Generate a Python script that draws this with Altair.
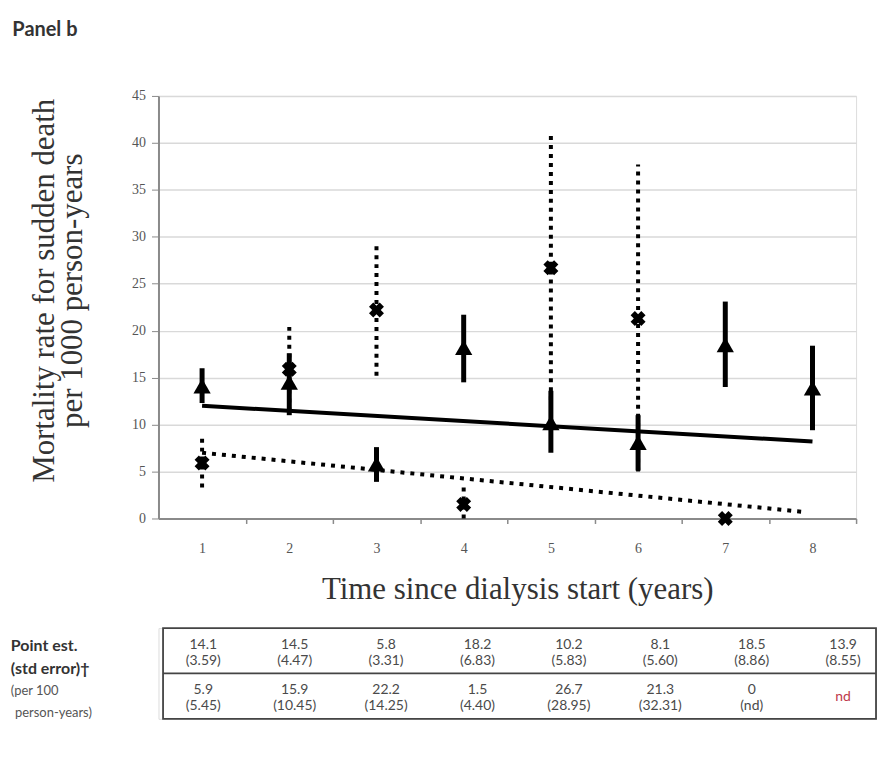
import altair as alt
import pandas as pd

# ---------------- data ----------------
years = [1, 2, 3, 4, 5, 6, 7, 8]

# series 1 (filled triangles, solid error bars)
tri_est = [14.1, 14.5, 5.8, 18.2, 10.2, 8.1, 18.5, 13.9]
tri_lo = [12.3, 11.0, 3.9, 14.5, 7.0, 5.1, 14.0, 9.4]
tri_hi = [16.0, 17.6, 7.6, 21.7, 13.6, 11.0, 23.1, 18.4]

# series 2 (x marks, dotted error bars) - year 8 not determined
x_years = [1, 2, 3, 4, 5, 6, 7]
x_est = [5.9, 15.9, 22.2, 1.5, 26.7, 21.3, 0.0]
x_err_years = [1, 2, 3, 4, 5, 6]
x_lo = [3.3, 11.4, 15.2, 0.0, 12.6, 5.0]
x_hi = [8.6, 20.4, 29.1, 3.6, 40.8, 37.7]

# linear trend lines (end points)
trend1_x = [1, 8]
trend1_y = [12.0, 8.2]
trend2_x = [1, 7.9]
trend2_y = [7.0, 0.7]

# table below the chart
row1_val = ["14.1", "14.5", "5.8", "18.2", "10.2", "8.1", "18.5", "13.9"]
row1_se = ["(3.59)", "(4.47)", "(3.31)", "(6.83)", "(5.83)", "(5.60)", "(8.86)", "(8.55)"]
row2_val = ["5.9", "15.9", "22.2", "1.5", "26.7", "21.3", "0", "nd"]
row2_se = ["(5.45)", "(10.45)", "(14.25)", "(4.40)", "(28.95)", "(32.31)", "(nd)", ""]

bold_labels = ["Point est.", "(std error)\u2020"]
bold_label_rows = [0.40, 0.90]
small_labels = ["(per 100", "person-years)"]
small_label_rows = [1.38, 1.87]
small_label_cols = [-1.105, -1.06]
label_col = -1.105
border_l, border_r = 0.56, 8.36

SERIF = "Liberation Serif"
SANS = "Lato"

# ---------------- main chart ----------------
tri_df = pd.DataFrame({"year": years, "est": tri_est, "lo": tri_lo, "hi": tri_hi})
x_df = pd.DataFrame({"year": x_years, "est": x_est})
xerr_df = pd.DataFrame({"year": x_err_years, "lo": x_lo, "hi": x_hi})
t1_df = pd.DataFrame({"year": trend1_x, "y": trend1_y})
t2_df = pd.DataFrame({"year": trend2_x, "y": trend2_y})

W, H = 700, 424
HALF = W / 16
xscale = alt.Scale(domain=[0.5, 8.5], nice=False, zero=False)
yscale = alt.Scale(domain=[0, 45], nice=False)

x_axis = alt.Axis(
    values=years, format="d", grid=False,
    ticks=True, tickSize=5, tickColor="#8a8a8a", tickWidth=1.5,
    tickOffset=HALF, labelOffset=-HALF,
    labelFont=SERIF, labelFontSize=14, labelColor="#555", labelPadding=18,
    domainColor="#8a8a8a", domainWidth=2,
    title="Time since dialysis start (years)", titleFont=SERIF, titleFontSize=31,
    titleFontWeight="normal", titleColor="#333", titlePadding=19, titleX=360,
)
y_axis = alt.Axis(
    values=list(range(0, 50, 5)), grid=True, gridColor="#d9d9d9", gridWidth=1.5,
    domainColor="#8a8a8a", domainWidth=2, tickColor="#8a8a8a", tickSize=7,
    labelFont=SERIF, labelFontSize=14, labelColor="#555", labelPadding=6,
    title=["Mortality rate for sudden death", "per 1000 person-years"],
    titleFont=SERIF, titleFontSize=31, titleFontWeight="normal", titleColor="#333",
    titleLineHeight=28, titlePadding=43, titleY=195,
)

bars1 = alt.Chart(tri_df).mark_rule(color="black", strokeWidth=5).encode(
    x=alt.X("year:Q", scale=xscale, axis=x_axis),
    y=alt.Y("lo:Q", scale=yscale, axis=y_axis),
    y2="hi:Q",
)
bars2 = alt.Chart(xerr_df).mark_rule(color="black", strokeWidth=4, strokeDash=[4, 5]).encode(
    x=alt.X("year:Q", scale=xscale),
    y=alt.Y("lo:Q", scale=yscale),
    y2="hi:Q",
)
line1 = alt.Chart(t1_df).mark_line(color="black", strokeWidth=4).encode(
    x=alt.X("year:Q", scale=xscale), y=alt.Y("y:Q", scale=yscale)
)
line2 = alt.Chart(t2_df).mark_line(color="black", strokeWidth=4, strokeDash=[4, 6]).encode(
    x=alt.X("year:Q", scale=xscale), y=alt.Y("y:Q", scale=yscale)
)
tri = alt.Chart(tri_df).mark_point(
    shape="triangle-up", filled=True, size=300, color="black", opacity=1
).encode(x=alt.X("year:Q", scale=xscale), y=alt.Y("est:Q", scale=yscale))
xm = alt.Chart(x_df).mark_point(
    shape="cross", angle=45, filled=True, size=230, color="black", opacity=1
).encode(x=alt.X("year:Q", scale=xscale), y=alt.Y("est:Q", scale=yscale))

main = alt.layer(bars1, bars2, line1, line2, tri, xm).properties(width=W, height=H)

# ---------------- table ----------------
cells, nd_cells = [], []
for i, c in enumerate(years):
    cells.append({"col": c, "row": 0.5, "txt": row1_val[i] + "\n" + row1_se[i]})
    if row2_se[i]:
        cells.append({"col": c, "row": 1.5, "txt": row2_val[i] + "\n" + row2_se[i]})
    else:
        nd_cells.append({"col": c, "row": 1.5, "txt": row2_val[i]})
cell_df = pd.DataFrame(cells)
nd_df = pd.DataFrame(nd_cells)

TW, TH = 720, 91
tx = alt.Scale(domain=[0.51, 8.36], nice=False, zero=False)
ty = alt.Scale(domain=[0, 2], reverse=True, nice=False)

box_df = pd.DataFrame({"x": [border_l], "x2": [border_r], "y": [0], "y2": [2]})
box = alt.Chart(box_df).mark_rect(fillOpacity=0, stroke="#444", strokeWidth=1.8).encode(
    x=alt.X("x:Q", scale=tx, axis=None), x2="x2:Q",
    y=alt.Y("y:Q", scale=ty, axis=None), y2="y2:Q",
)
mid_df = pd.DataFrame({"x": [border_l], "x2": [border_r], "y": [1]})
mid = alt.Chart(mid_df).mark_rule(color="#444", strokeWidth=1.8).encode(
    x=alt.X("x:Q", scale=tx, axis=None), x2="x2:Q", y=alt.Y("y:Q", scale=ty, axis=None)
)
txt = alt.Chart(cell_df).mark_text(
    font=SANS, fontSize=14, lineBreak="\n", lineHeight=16, baseline="middle", dy=-6,
    color="#4a4a4a",
).encode(
    x=alt.X("col:Q", scale=tx, axis=None),
    y=alt.Y("row:Q", scale=ty, axis=None),
    text="txt:N",
)
nd_txt = alt.Chart(nd_df).mark_text(
    font=SANS, fontSize=14, baseline="middle", dy=1, color="#c0394b"
).encode(
    x=alt.X("col:Q", scale=tx, axis=None),
    y=alt.Y("row:Q", scale=ty, axis=None),
    text="txt:N",
)
bl_df = pd.DataFrame({"x": [label_col] * 2, "y": bold_label_rows, "t": bold_labels})
sl_df = pd.DataFrame({"x": small_label_cols, "y": small_label_rows, "t": small_labels})
blab = alt.Chart(bl_df).mark_text(
    font=SANS, fontSize=16, fontWeight="bold", align="left", baseline="middle", color="#333"
).encode(x=alt.X("x:Q", scale=tx, axis=None), y=alt.Y("y:Q", scale=ty, axis=None), text="t:N")
slab = alt.Chart(sl_df).mark_text(
    font=SANS, fontSize=13, align="left", baseline="middle", color="#555"
).encode(x=alt.X("x:Q", scale=tx, axis=None), y=alt.Y("y:Q", scale=ty, axis=None), text="t:N")

table = alt.layer(box, mid, txt, nd_txt, blab, slab).properties(width=TW, height=TH)

chart = alt.vconcat(main, table, spacing=110, bounds="flush").properties(
    title=alt.TitleParams(
        "Panel b", anchor="start", font=SANS, fontSize=20, fontWeight="bold",
        color="#333", offset=49, dx=2,
    ),
    padding={"left": 2, "top": 10, "right": 2, "bottom": 5},
).configure_view(stroke=None).configure(background="white")

chart.save("out.html", embed_options={"renderer": "svg", "actions": False})
